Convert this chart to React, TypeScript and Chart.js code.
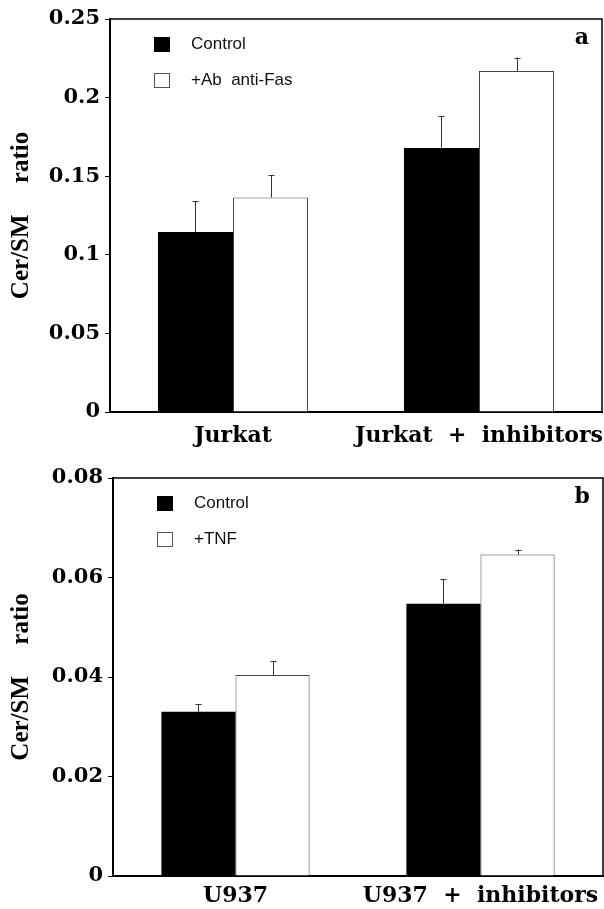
import { useEffect, useRef } from 'react';
import { Chart, registerables } from 'chart.js';

Chart.register(...registerables);

// ---------- Panel a ----------
const categoriesA = ['Jurkat', 'Jurkat  +  inhibitors'];
const seriesLabelsA = ['Control', '+Ab  anti-Fas'];
const controlA = [0.1145, 0.168];
const controlErrA = [0.0195, 0.02];
const fasA = [0.1365, 0.217];
const fasErrA = [0.014, 0.0085];
const yTicksA = [0, 0.05, 0.1, 0.15, 0.2, 0.25];
const yTickLabelsA = ['0', '0.05', '0.1', '0.15', '0.2', '0.25'];

// ---------- Panel b ----------
const categoriesB = ['U937', 'U937  +  inhibitors'];
const seriesLabelsB = ['Control', '+TNF'];
const controlB = [0.033, 0.0547];
const controlErrB = [0.0016, 0.005];
const tnfB = [0.0404, 0.0646];
const tnfErrB = [0.0028, 0.001];
const yTicksB = [0, 0.02, 0.04, 0.06, 0.08];
const yTickLabelsB = ['0', '0.02', '0.04', '0.06', '0.08'];

const yTitle = 'Cer/SM     ratio';

type PanelCfg = {
  categories: string[];
  labels: string[];
  values: number[][];
  errors: number[][];
  yMax: number;
  yTicks: number[];
  yTickLabels: string[];
  letter: string;
  axisLeft: number;
  padTop: number;
  padRight: number;
  areaBottom: number;
  canvasH: number;
  xPad: number;
  catPct: number;
};

function build(canvas: HTMLCanvasElement, cfg: PanelCfg) {
  const errorBars = {
    id: 'errorBars',
    afterDatasetsDraw(chart: any) {
      const { ctx } = chart;
      const yScale = chart.scales.y;
      chart.data.datasets.forEach((ds: any, i: number) => {
        const meta = chart.getDatasetMeta(i);
        meta.data.forEach((bar: any, j: number) => {
          const v = ds.data[j];
          const e = cfg.errors[i][j];
          const yTop = yScale.getPixelForValue(v + e);
          const yBar = yScale.getPixelForValue(v);
          const x = Math.round(bar.x) + 0.5;
          ctx.save();
          ctx.strokeStyle = '#333';
          ctx.lineWidth = 1;
          ctx.beginPath();
          ctx.moveTo(x, yBar);
          ctx.lineTo(x, yTop);
          ctx.moveTo(x - 3, Math.round(yTop) + 0.5);
          ctx.lineTo(x + 3, Math.round(yTop) + 0.5);
          ctx.stroke();
          ctx.restore();
        });
      });
    },
  };

  const decorations = {
    id: 'decorations',
    afterDraw(chart: any) {
      const { ctx, chartArea } = chart;
      ctx.save();
      // frame: top and right
      ctx.strokeStyle = '#000';
      ctx.lineWidth = 1.5;
      ctx.beginPath();
      ctx.moveTo(chartArea.left, chartArea.top);
      ctx.lineTo(chartArea.right, chartArea.top);
      ctx.lineTo(chartArea.right, chartArea.bottom);
      ctx.stroke();
      // legend
      chart.data.datasets.forEach((ds: any, i: number) => {
        const cy = chartArea.top + 25 + i * 36;
        const sx = chartArea.left + 44;
        ctx.fillStyle = ds.backgroundColor;
        ctx.fillRect(sx, cy - 7, 16, 15);
        if (i > 0) {
          ctx.strokeStyle = '#555';
          ctx.lineWidth = 1;
          ctx.strokeRect(sx + 0.5, cy - 6.5, 15, 14);
        }
        ctx.fillStyle = '#111';
        ctx.font = '17px "Liberation Sans"';
        ctx.textAlign = 'left';
        ctx.textBaseline = 'middle';
        ctx.fillText(ds.label, chartArea.left + 81, cy);
      });
      // panel letter
      ctx.fillStyle = '#000';
      ctx.font = 'bold 22px "DejaVu Serif"';
      ctx.textAlign = 'right';
      ctx.textBaseline = 'alphabetic';
      ctx.fillText(cfg.letter, chartArea.right - 13, chartArea.top + 25);
      ctx.restore();
    },
  };

  return new Chart(canvas, {
    type: 'bar',
    data: {
      labels: cfg.categories,
      datasets: [
        {
          label: cfg.labels[0],
          data: cfg.values[0],
          backgroundColor: '#000',
          borderColor: '#000',
          borderWidth: 0,
          categoryPercentage: cfg.catPct,
          barPercentage: 1,
        },
        {
          label: cfg.labels[1],
          data: cfg.values[1],
          backgroundColor: '#fff',
          borderColor: '#444',
          borderWidth: 1,
          categoryPercentage: cfg.catPct,
          barPercentage: 1,
        },
      ],
    },
    options: {
      animation: false,
      responsive: false,
      devicePixelRatio: 1,
      layout: { padding: { left: 0, top: cfg.padTop, right: cfg.padRight, bottom: 0 } },
      plugins: { legend: { display: false }, tooltip: { enabled: false } },
      scales: {
        x: {
          type: 'category',
          grid: { display: false, drawTicks: false },
          border: { display: true, color: '#000', width: 2 },
          ticks: {
            color: '#000',
            font: { family: 'DejaVu Serif', weight: 'bold', size: 22 },
            padding: cfg.xPad,
            maxRotation: 0,
            autoSkip: false,
          },
          afterFit: (s: any) => {
            s.height = cfg.canvasH - cfg.areaBottom;
            s.paddingLeft = 0;
            s.paddingRight = 0;
          },
        },
        y: {
          type: 'linear',
          min: 0,
          max: cfg.yMax,
          grid: {
            display: true,
            drawOnChartArea: false,
            drawTicks: true,
            tickLength: 5,
            color: '#000',
            lineWidth: 1,
          },
          border: { display: true, color: '#000', width: 2 },
          ticks: {
            color: '#000',
            font: { family: 'DejaVu Serif', weight: 'bold', size: 21 },
            padding: 5,
            callback: (v: any) => {
              const idx = cfg.yTicks.findIndex((t) => Math.abs(t - Number(v)) < 1e-9);
              return idx >= 0 ? cfg.yTickLabels[idx] : '';
            },
          },
          afterBuildTicks: (s: any) => {
            s.ticks = cfg.yTicks.map((v) => ({ value: v }));
          },
          title: {
            display: true,
            text: yTitle,
            color: '#000',
            font: { family: 'Liberation Serif', weight: 'bold', size: 25 },
            padding: { top: 7, bottom: 0 },
          },
          afterFit: (s: any) => {
            s.width = cfg.axisLeft;
          },
        },
      },
    } as any,
    plugins: [errorBars, decorations],
  });
}

export default function App() {
  const refA = useRef<HTMLCanvasElement>(null);
  const refB = useRef<HTMLCanvasElement>(null);

  useEffect(() => {
    const a = build(refA.current!, {
      categories: categoriesA,
      labels: seriesLabelsA,
      values: [controlA, fasA],
      errors: [controlErrA, fasErrA],
      yMax: 0.25,
      yTicks: yTicksA,
      yTickLabels: yTickLabelsA,
      letter: 'a',
      axisLeft: 110,
      padTop: 19,
      padRight: 2,
      areaBottom: 412,
      canvasH: 460,
      xPad: 11,
      catPct: 0.61,
    });
    const b = build(refB.current!, {
      categories: categoriesB,
      labels: seriesLabelsB,
      values: [controlB, tnfB],
      errors: [controlErrB, tnfErrB],
      yMax: 0.08,
      yTicks: yTicksB,
      yTickLabels: yTickLabelsB,
      letter: 'b',
      axisLeft: 113,
      padTop: 18,
      padRight: 1,
      areaBottom: 416,
      canvasH: 449,
      xPad: 7,
      catPct: 0.605,
    });
    return () => {
      a.destroy();
      b.destroy();
    };
  }, []);

  return (
    <div style={{ position: 'fixed', left: 0, top: 0, width: 604, height: 909, background: '#fff' }}>
      <canvas
        ref={refA}
        width={604}
        height={460}
        style={{ position: 'absolute', left: 0, top: 0, width: 604, height: 460, display: 'block' }}
      />
      <canvas
        ref={refB}
        width={604}
        height={449}
        style={{ position: 'absolute', left: 0, top: 460, width: 604, height: 449, display: 'block' }}
      />
    </div>
  );
}
